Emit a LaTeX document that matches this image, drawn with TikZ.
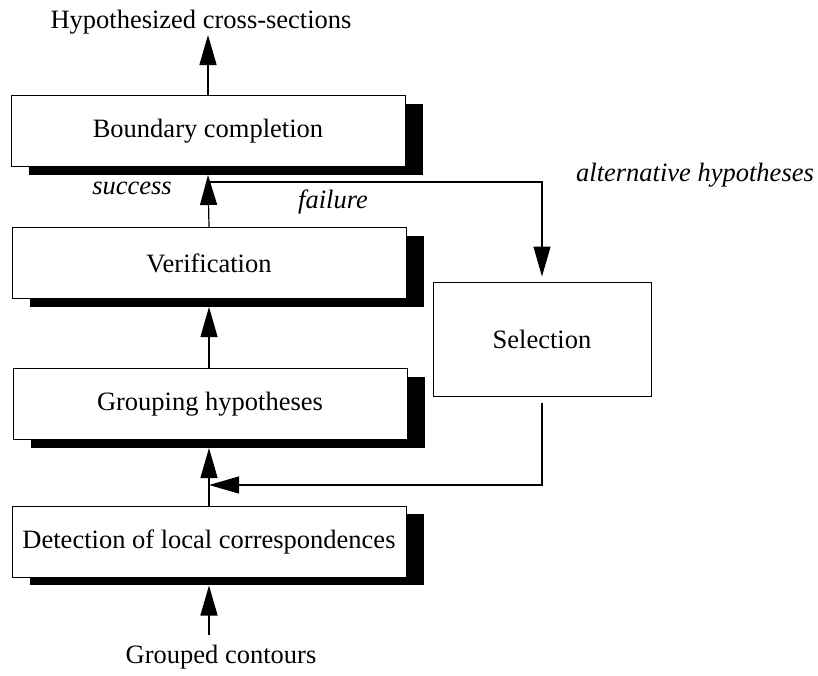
\documentclass[tikz,border=0pt]{standalone}
\usepackage{fontspec}
\setmainfont{Liberation Serif}
\usetikzlibrary{arrows.meta,shadows}
\begin{document}
\begin{tikzpicture}[x=1pt,y=-1pt,
  every node/.style={font=\fontsize{26.5}{30}\selectfont, inner sep=0pt},
  procbox/.style={draw, line width=1pt, fill=white, minimum width=394pt, minimum height=71pt,
    general shadow={fill=black, opacity=1, shadow xshift=18pt, shadow yshift=-8pt}},
  selbox/.style={draw, line width=1pt, fill=white, minimum width=218pt, minimum height=114pt},
  lbl/.style={font=\fontsize{26.5}{30}\selectfont\itshape},
  arr/.style={line width=1.2pt, -{Triangle[length=30pt,width=17pt]}},
  conn/.style={line width=1.2pt}]
\useasboundingbox (0,0) rectangle (818,675);
\node[procbox] (bound) at (208,131) {Boundary completion};
\node[procbox] (verif) at (209,263) {Verification};
\node[procbox] (group) at (210,404) {Grouping hypotheses};
\node[procbox] (detect) at (209,541.5) {Detection of local correspondences};
\node[selbox] (sel) at (542,339) {Selection};
\node (hyp) at (201,22) {Hypothesized cross-sections};
\node (gc) at (221,657) {Grouped contours};
\node[lbl] (succ) at (132,188) {success};
\node[lbl] (fail) at (333,202) {failure};
\node[lbl] (alt) at (695,175) {alternative hypotheses};
\coordinate (hyptip) at (208,35);
\coordinate (br) at (208,182);
\coordinate (fb) at (209,485);
\coordinate (gctop) at (209,635);
\draw[arr] (bound.north) -- (hyptip);
\draw[arr] (verif.north) -- ([yshift=-8pt]bound.south);
\draw[arr] (group.north -| verif.north) -- ([yshift=-8pt]verif.south);
\draw[arr] (detect.north) -- ([yshift=-8pt]group.south -| detect.north);
\draw[arr] (gctop) -- ([yshift=-8pt]detect.south);
\draw[arr] (br) -| ([yshift=5pt]sel.north);
\draw[arr] ([yshift=-6pt]sel.south) |- (fb);
\end{tikzpicture}
\end{document}
